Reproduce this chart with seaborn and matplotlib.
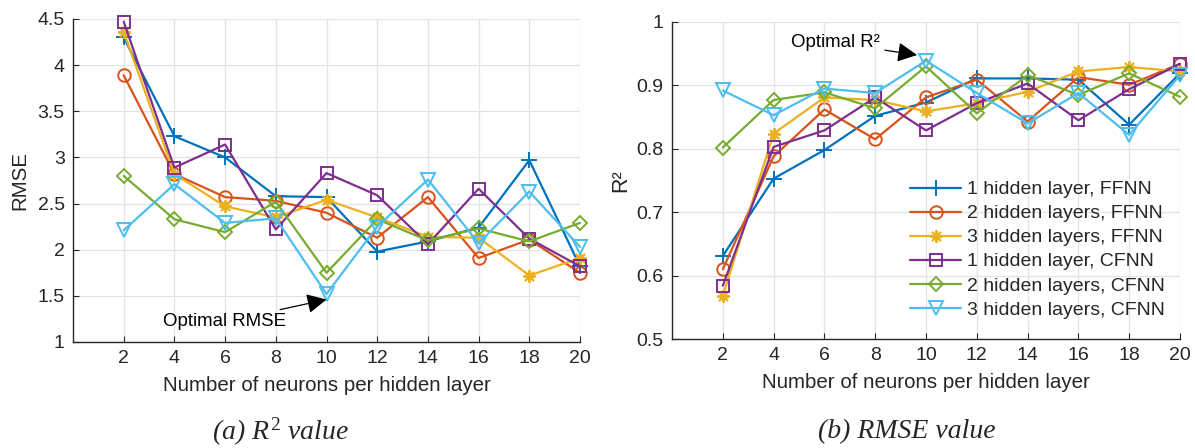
import matplotlib
matplotlib.use("Agg")
import matplotlib.pyplot as plt
import seaborn as sns
import pandas as pd

neurons = [2, 4, 6, 8, 10, 12, 14, 16, 18, 20]
series_labels = ["1 hidden layer, FFNN", "2 hidden layers, FFNN", "3 hidden layers, FFNN",
                 "1 hidden layer, CFNN", "2 hidden layers, CFNN", "3 hidden layers, CFNN"]

rmse_ffnn1 = [4.30, 3.23, 3.00, 2.58, 2.57, 1.98, 2.09, 2.24, 2.97, 1.82]
rmse_ffnn2 = [3.89, 2.82, 2.57, 2.53, 2.40, 2.13, 2.57, 1.91, 2.11, 1.75]
rmse_ffnn3 = [4.36, 2.82, 2.47, 2.35, 2.54, 2.35, 2.14, 2.13, 1.72, 1.91]
rmse_cfnn1 = [4.47, 2.89, 3.14, 2.22, 2.83, 2.59, 2.06, 2.66, 2.12, 1.82]
rmse_cfnn2 = [2.80, 2.33, 2.19, 2.52, 1.75, 2.33, 2.10, 2.23, 2.09, 2.29]
rmse_cfnn3 = [2.21, 2.71, 2.29, 2.34, 1.52, 2.25, 2.76, 2.07, 2.63, 2.03]

r2_ffnn1 = [0.631, 0.753, 0.798, 0.852, 0.873, 0.911, 0.911, 0.909, 0.838, 0.919]
r2_ffnn2 = [0.610, 0.788, 0.862, 0.815, 0.881, 0.909, 0.843, 0.913, 0.901, 0.934]
r2_ffnn3 = [0.568, 0.824, 0.881, 0.877, 0.859, 0.872, 0.890, 0.922, 0.929, 0.922]
r2_cfnn1 = [0.584, 0.803, 0.829, 0.881, 0.829, 0.872, 0.903, 0.845, 0.894, 0.934]
r2_cfnn2 = [0.802, 0.877, 0.889, 0.864, 0.930, 0.856, 0.916, 0.885, 0.919, 0.882]
r2_cfnn3 = [0.892, 0.853, 0.895, 0.888, 0.939, 0.888, 0.840, 0.888, 0.822, 0.916]

rmse_ticks = [1, 1.5, 2, 2.5, 3, 3.5, 4, 4.5]
rmse_ticklabels = ["1", "1.5", "2", "2.5", "3", "3.5", "4", "4.5"]
r2_ticks = [0.5, 0.6, 0.7, 0.8, 0.9, 1.0]
r2_ticklabels = ["0.5", "0.6", "0.7", "0.8", "0.9", "1"]

colors = ["#0072BD", "#D95319", "#EDB120", "#7E2F8E", "#77AC30", "#4DBEEE"]
markers = ["+", "o", (8, 2, 0), "s", "D", "v"]
msizes = [11, 9, 9, 8, 7.5, 9.5]

sns.set_style("ticks")
plt.rcParams["font.family"] = ["Liberation Sans", "DejaVu Sans"]
plt.rcParams["mathtext.fontset"] = "custom"
plt.rcParams["mathtext.it"] = "Liberation Serif:italic"
plt.rcParams["mathtext.rm"] = "Liberation Serif"

fig = plt.figure(figsize=(11.95, 4.48), dpi=100)
axL = fig.add_axes([73/1195, 1-342/448, (580-73)/1195, (342-19)/448])
axR = fig.add_axes([672/1195, 1-339/448, (1180-672)/1195, (339-22)/448])

axis_col = "#262626"
grid_col = "#e3e3e3"


def draw(ax, data):
    for vals, lab, c, m, ms in zip(data, series_labels, colors, markers, msizes):
        df = pd.DataFrame({"n": neurons, "v": vals})
        sns.lineplot(data=df, x="n", y="v", ax=ax, color=c, marker=m, markersize=ms,
                     markerfacecolor="none", markeredgecolor=c, markeredgewidth=1.4,
                     linewidth=1.6, label=lab, legend=False, clip_on=False)
    ax.set_xlim(0, 20)
    ax.set_xticks(neurons)
    ax.set_xticklabels([str(n) for n in neurons])
    ax.grid(True, color=grid_col, linewidth=0.9)
    ax.set_axisbelow(True)
    for s in ["top", "right"]:
        ax.spines[s].set_visible(False)
    for s in ["left", "bottom"]:
        ax.spines[s].set_color(axis_col)
        ax.spines[s].set_linewidth(1.0)
    ax.tick_params(direction="in", length=4, width=0.8, colors=axis_col,
                   labelsize=14, labelcolor=axis_col, pad=6)
    ax.set_xlabel("Number of neurons per hidden layer", fontsize=14.8, color=axis_col, labelpad=6)


draw(axL, [rmse_ffnn1, rmse_ffnn2, rmse_ffnn3, rmse_cfnn1, rmse_cfnn2, rmse_cfnn3])
axL.set_ylim(1, 4.5)
axL.set_yticks(rmse_ticks)
axL.set_yticklabels(rmse_ticklabels)
axL.set_ylabel("RMSE", fontsize=14.8, color=axis_col, labelpad=6)
axL.annotate("Optimal RMSE", xy=(10.0, 1.46), xytext=(8.4, 1.22),
             ha="right", va="center", fontsize=13.4, color="black",
             arrowprops=dict(arrowstyle="-|>", color="black", lw=0.9,
                             mutation_scale=30, shrinkA=1, shrinkB=0))

draw(axR, [r2_ffnn1, r2_ffnn2, r2_ffnn3, r2_cfnn1, r2_cfnn2, r2_cfnn3])
axR.set_ylim(0.5, 1.0)
axR.set_yticks(r2_ticks)
axR.set_yticklabels(r2_ticklabels)
axR.set_ylabel("R²", fontsize=15.5, color=axis_col, labelpad=4)
axR.annotate("Optimal R²", xy=(9.65, 0.948), xytext=(8.2, 0.967),
             ha="right", va="center", fontsize=13.4, color="black",
             arrowprops=dict(arrowstyle="-|>", color="black", lw=0.9,
                             mutation_scale=30, shrinkA=1, shrinkB=0))
leg = axR.legend(loc="lower right", frameon=False, fontsize=14, handlelength=2.6,
                 labelspacing=0.33, handletextpad=0.3, borderaxespad=0.0,
                 bbox_to_anchor=(0.985, 0.04))
for t in leg.get_texts():
    t.set_color(axis_col)

fig.text(280/1195, 1-432/448, "(a) $R^2$ value", ha="center", va="center",
         fontsize=20, style="italic", family="Liberation Serif")
fig.text(907/1195, 1-432/448, "(b) RMSE value", ha="center", va="center",
         fontsize=20, style="italic", family="Liberation Serif")

fig.savefig("out.png", dpi=100)
